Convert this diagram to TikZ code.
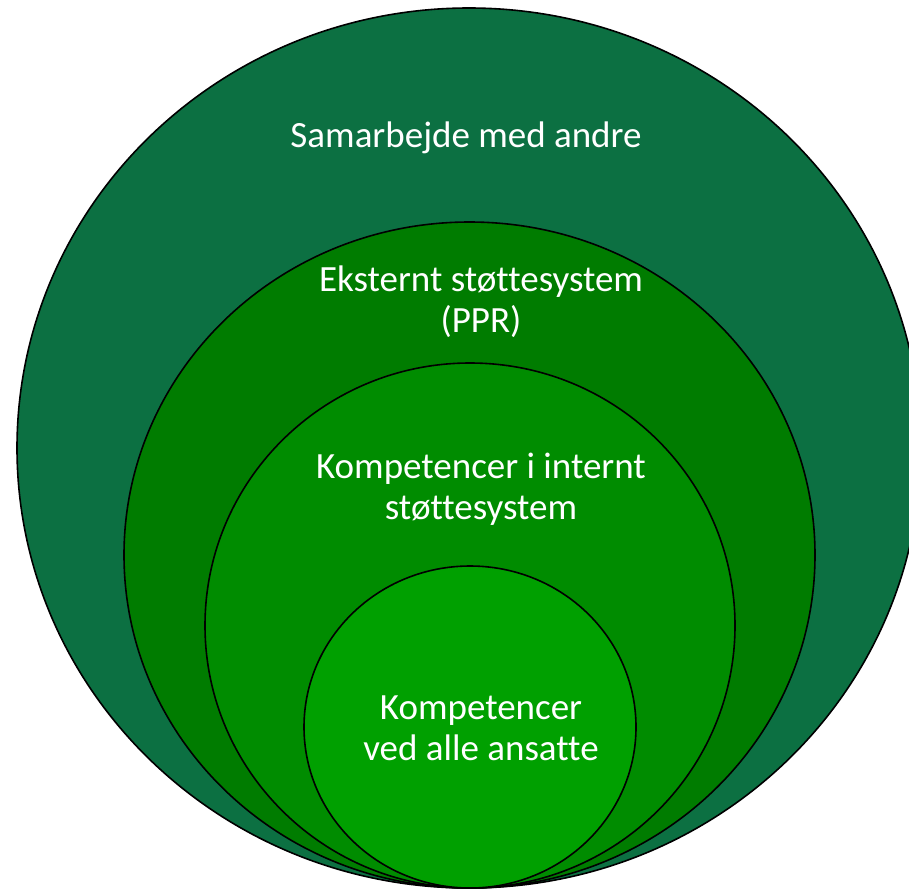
\documentclass[tikz,border=0pt]{standalone}
\usepackage{fontspec}
\setmainfont{Carlito}[Ligatures={NoCommon}]
\usetikzlibrary{shapes.geometric}
\definecolor{ringA}{RGB}{12,112,66}
\definecolor{ringB}{RGB}{0,124,0}
\definecolor{ringC}{RGB}{0,140,0}
\definecolor{ringD}{RGB}{0,160,0}
\tikzset{
  ring/.style={ellipse, draw=black, line width=1.6pt, inner sep=0pt},
  lbl/.style={text=white, align=center, inner sep=0pt,
    font=\fontsize{37}{41}\selectfont}
}
\begin{document}
\begin{tikzpicture}[x=1pt,y=-1pt]
\useasboundingbox (0,0) rectangle (909,889);
\clip (0,0) rectangle (909,889);
\node[ring, fill=ringA, minimum width=904pt, minimum height=880pt] (r1) at (469,448) {};
\node[ring, fill=ringB, minimum width=691pt, minimum height=666pt] (r2) at (469.5,555) {};
\node[ring, fill=ringC, minimum width=530pt, minimum height=525pt] (r3) at (470,625.5) {};
\node[ring, fill=ringD, minimum width=332pt, minimum height=322pt] (r4) at (470,727) {};
\node[lbl, anchor=base] (t1) at (466,147) {Samarbejde med andre};
\node[lbl] (t2) at (481,302) {Eksternt støttesystem\\(PPR)};
\node[lbl] (t3) at (481,489) {Kompetencer i internt\\støttesystem};
\node[lbl] (t4) at (481,728.5) {Kompetencer\\ved alle ansatte};
\end{tikzpicture}
\end{document}
